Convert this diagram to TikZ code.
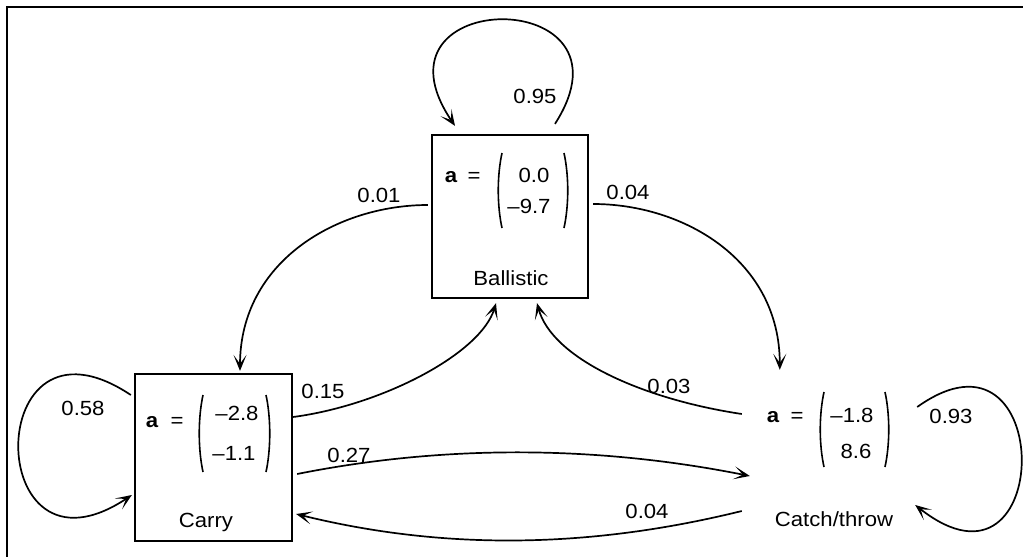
\documentclass[tikz,border=0pt]{standalone}
\usepackage{fontspec}
\setmainfont[FakeStretch=1.08]{Liberation Sans}
\usetikzlibrary{arrows.meta,calc}
\begin{document}
\begin{tikzpicture}[x=1pt,y=-1pt,
  statebox/.style={draw,line width=2.3pt,inner sep=0pt},
  ghost/.style={inner sep=0pt},
  txt/.style={inner sep=0pt,anchor=base,font=\fontsize{20.5}{24}\selectfont},
  paren/.style={line width=1.6pt},
  edge/.style={line width=1.7pt,-{Stealth[length=16pt,width=13pt,inset=9pt]}},
  frame/.style={line width=2pt}]
\useasboundingbox (0,0) rectangle (1023,557);
\draw[frame] (7,557) -- (7,7) -- (1023,7);

% states
\node[statebox,minimum width=156pt,minimum height=163pt] (ball) at (510,216.5) {};
\node[statebox,minimum width=157pt,minimum height=167pt] (carry) at (213.5,457.5) {};
\node[ghost,minimum width=167pt,minimum height=168pt] (catch) at (833.5,456) {};

% Ballistic contents
\node[txt] (ba) at (451,182) {\textbf{a}};
\node[txt] (be) at (474,182) {=};
\node[txt] (b1) at (534,182) {0.0};
\node[txt] (b2) at (529,213) {–9.7};
\draw[paren] (502,153) .. controls (497,176) and (497,205) .. (502,228);
\draw[paren] (564,153) .. controls (569,176) and (569,205) .. (564,228);
\node[txt] (bn) at (511,285) {Ballistic};

% Carry contents
\node[txt] (ca) at (152,427) {\textbf{a}};
\node[txt] (ce) at (177,427) {=};
\node[txt] (c1) at (237,420) {–2.8};
\node[txt] (c2) at (234,460) {–1.1};
\draw[paren] (203,395) .. controls (198,418) and (198,449) .. (203,472);
\draw[paren] (266,395) .. controls (271,418) and (271,449) .. (266,472);
\node[txt] (cn) at (206,527) {Carry};

% Catch/throw contents
\node[txt] (ta) at (773,422) {\textbf{a}};
\node[txt] (te) at (797,422) {=};
\node[txt] (t1) at (852,422) {–1.8};
\node[txt] (t2) at (856,458) {8.6};
\draw[paren] (824,392) .. controls (819,415) and (819,444) .. (824,467);
\draw[paren] (885,392) .. controls (890,415) and (890,444) .. (885,467);
\node[txt] (tn) at (834,526) {Catch/throw};

% connectors
\draw[edge] ($(ball.north)+(45,-10)$) .. controls +(90,-140) and +(-95,-140) .. ($(ball.north)+(-55,-8)$);
\draw[edge] ($(carry.west)+(-3,-62.5)$) .. controls +(-150,-100) and +(-150,100) .. ($(carry.west)+(-2,37.5)$);
\draw[edge] ($(catch.east)+(0,-49)$) .. controls +(140,-100) and +(140,110) .. ($(catch.east)+(-2,49)$);

\draw[edge] ($(ball.west)+(-3,-11.5)$) .. controls +(-90,0) and +(0,-110) .. ($(carry.north)+(26.5,-2)$);
\draw[edge] ($(ball.east)+(4,-12.5)$) .. controls +(90,0) and +(0,-110) .. ($(catch.north west)+(30,-2)$);
\draw[edge] ($(carry.east)+(0,-40.5)$) .. controls +(90,-12) and +(-15,50) .. ($(ball.south)+(-14,4)$);
\draw[edge] ($(catch.west)+(-8,-42)$) .. controls +(-100,-15) and +(15,55) .. ($(ball.south)+(27,4)$);
\draw[edge] ($(carry.east)+(4,16.5)$) .. controls +(150,-30) and +(-150,-30) .. ($(catch.west)+(0,20)$);
\draw[edge] ($(catch.west)+(-8,55)$) .. controls +(-150,37) and +(150,37) .. ($(carry.east)+(3,56.5)$);

% labels
\node[txt] (l095) at (535,103) {0.95};
\node[txt] (l001) at (379,202) {0.01};
\node[txt] (l004a) at (628,199) {0.04};
\node[txt] (l015) at (323,398) {0.15};
\node[txt] (l003) at (669,393) {0.03};
\node[txt] (l027) at (349,462) {0.27};
\node[txt] (l004b) at (647,518) {0.04};
\node[txt] (l058) at (83,415) {0.58};
\node[txt] (l093) at (951,423) {0.93};
\end{tikzpicture}
\end{document}
